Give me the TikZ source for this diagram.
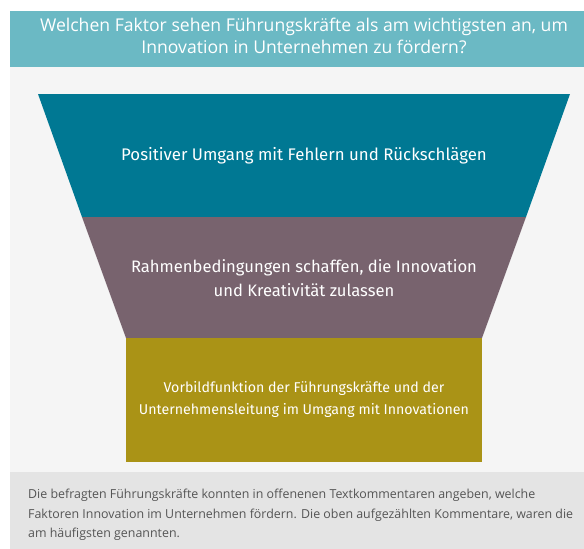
\documentclass[tikz,border=0pt]{standalone}
\usepackage{fontspec}
\setmainfont{Open Sans}
\newfontfamily\funnelfont{Fira Sans}
\definecolor{hdr}{HTML}{6BB9C4}
\definecolor{bgl}{HTML}{F5F5F5}
\definecolor{ftr}{HTML}{E4E4E4}
\definecolor{tealc}{HTML}{007893}
\definecolor{mauvec}{HTML}{78636E}
\definecolor{olivec}{HTML}{AA9316}
\definecolor{ftxt}{HTML}{555555}
\tikzset{
  lvltext/.style={text=white, align=center},
}
\begin{document}
\begin{tikzpicture}[x=1pt,y=-1pt]
\useasboundingbox (0,0) rectangle (584,549);
\fill[white] (0,0) rectangle (584,549);
% header
\fill[hdr] (10,11) rectangle (584,67);
\node[text=white, align=center, font=\fontsize{17.6}{22}\selectfont] (title) at (304,36)
  {Welchen Faktor sehen Führungskräfte als am wichtigsten an, um\\Innovation in Unternehmen zu fördern?};
% background
\fill[bgl] (10,67) rectangle (584,472);
% funnel
\fill[tealc] (38,94) -- (570,94) -- (526,217) -- (82,217) -- cycle;
\fill[mauvec] (82,217) -- (526,217) -- (482,338) -- (126,338) -- cycle;
\fill[olivec] (126,338) rectangle (482,462);
\node[lvltext, font=\funnelfont\fontsize{16.8}{24}\selectfont] (l1) at (304,156)
  {Positiver Umgang mit Fehlern und Rückschlägen};
\node[lvltext, font=\funnelfont\fontsize{16.6}{24}\selectfont] (l2) at (304,278)
  {Rahmenbedingungen schaffen, die Innovation\\und Kreativität zulassen};
\node[lvltext, font=\funnelfont\fontsize{14.2}{22}\selectfont] (l3) at (304,399)
  {Vorbildfunktion der Führungskräfte und der\\Unternehmensleitung im Umgang mit Innovationen};
% footer
\fill[ftr] (10,472) rectangle (584,549);
\node[text=ftxt, align=left, anchor=north west, inner sep=0pt, font=\fontsize{12.4}{19.5}\selectfont] (foot) at (28,489)
  {Die befragten Führungskräfte konnten in offenenen Textkommentaren angeben, welche\\Faktoren Innovation im Unternehmen fördern. Die oben aufgezählten Kommentare, waren die\\am häufigsten genannten.};
\end{tikzpicture}
\end{document}
